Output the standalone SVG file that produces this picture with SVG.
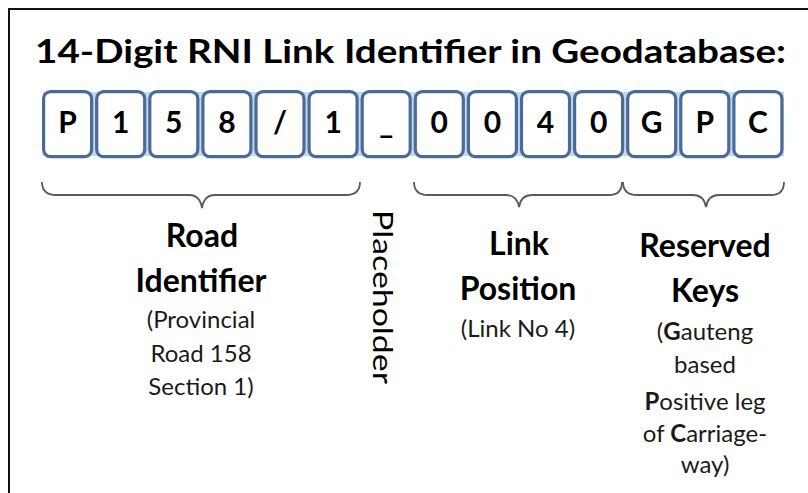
<svg xmlns="http://www.w3.org/2000/svg" width="808" height="493" viewBox="0 0 808 493">
<style>
text{font-family:Lato,"Open Sans","Liberation Sans",sans-serif;fill:#000}
.title{font-size:32px;font-weight:bold}
.ch{font-size:30px;font-weight:bold;text-anchor:middle}
.h{font-size:32px;font-weight:bold;text-anchor:middle}
.s{font-size:24px;text-anchor:middle;fill:#1a1a1a}
.b{font-weight:bold}
.box{fill:#fff;stroke:#4a6b97;stroke-width:3.2}
.brace{fill:none;stroke:#5a5a5a;stroke-width:1.8}
</style>
<rect width="808" height="493" fill="#fff"/>
<path d="M9,493 V9 H808" fill="none" stroke="#111" stroke-width="2"/>
<text class="title" x="35" y="63" textLength="751" lengthAdjust="spacingAndGlyphs">14-Digit RNI Link Identifier in Geodatabase:</text>
<rect x="43" y="92" width="741" height="64" fill="#c6d8ee"/>
<g id="c1"><rect class="box" x="43.6" y="91.6" width="48" height="65" rx="7"/><text class="ch" x="67.6" y="133">P</text></g>
<g id="c2"><rect class="box" x="96.7" y="91.6" width="48" height="65" rx="7"/><text class="ch" x="120.7" y="133">1</text></g>
<g id="c3"><rect class="box" x="149.8" y="91.6" width="48" height="65" rx="7"/><text class="ch" x="173.8" y="133">5</text></g>
<g id="c4"><rect class="box" x="202.9" y="91.6" width="48" height="65" rx="7"/><text class="ch" x="226.9" y="133">8</text></g>
<g id="c5"><rect class="box" x="256" y="91.6" width="48" height="65" rx="7"/><text class="ch" x="280" y="133">/</text></g>
<g id="c6"><rect class="box" x="309.1" y="91.6" width="48" height="65" rx="7"/><text class="ch" x="333.1" y="133">1</text></g>
<g id="c7"><rect class="box" x="362.2" y="91.6" width="48" height="65" rx="7"/><text class="ch" x="386.2" y="133">_</text></g>
<g id="c8"><rect class="box" x="415.3" y="91.6" width="48" height="65" rx="7"/><text class="ch" x="439.3" y="133">0</text></g>
<g id="c9"><rect class="box" x="468.4" y="91.6" width="48" height="65" rx="7"/><text class="ch" x="492.4" y="133">0</text></g>
<g id="c10"><rect class="box" x="521.5" y="91.6" width="48" height="65" rx="7"/><text class="ch" x="545.5" y="133">4</text></g>
<g id="c11"><rect class="box" x="574.6" y="91.6" width="48" height="65" rx="7"/><text class="ch" x="598.6" y="133">0</text></g>
<g id="c12"><rect class="box" x="627.7" y="91.6" width="48" height="65" rx="7"/><text class="ch" x="651.7" y="133">G</text></g>
<g id="c13"><rect class="box" x="680.8" y="91.6" width="48" height="65" rx="7"/><text class="ch" x="704.8" y="133">P</text></g>
<g id="c14"><rect class="box" x="733.9" y="91.6" width="48" height="65" rx="7"/><text class="ch" x="757.9" y="133">C</text></g>
<g id="connectors">
<path class="brace" d="M42,182 Q42,195 56,195 H189 Q200,195 202,208 Q204,195 215,195 H346 Q360,195 360,182"/>
<path class="brace" d="M414,182 Q414,195 428,195 H506 Q517,195 519,207 Q521,195 532,195 H609 Q622,195 622,182"/>
<path class="brace" d="M623,182 Q623,195 637,195 H693 Q704,195 706,207 Q708,195 719,195 H771 Q784,195 784,182"/>
</g>
<g id="road">
<text class="h" x="202" y="247">Road</text>
<text class="h" x="201" y="292">Identifier</text>
<text class="s" x="201" y="328">(Provincial</text>
<text class="s" x="201" y="362">Road 158</text>
<text class="s" x="201" y="395">Section 1)</text>
</g>
<g id="placeholder">
<text transform="translate(373,210) rotate(90)" x="0" y="0" font-size="27" textLength="174" lengthAdjust="spacingAndGlyphs">Placeholder</text>
</g>
<g id="link">
<text class="h" x="519" y="255">Link</text>
<text class="h" x="518" y="300">Position</text>
<text class="s" x="518" y="337">(Link No 4)</text>
</g>
<g id="reserved">
<text class="h" x="705" y="257">Reserved</text>
<text class="h" x="705" y="302">Keys</text>
<text class="s" x="705" y="340">(<tspan class="b">G</tspan>auteng</text>
<text class="s" x="705" y="373">based</text>
<text class="s" x="705" y="410"><tspan class="b">P</tspan>ositive leg</text>
<text class="s" x="705" y="442">of <tspan class="b">C</tspan>arriage-</text>
<text class="s" x="705" y="473">way)</text>
</g>
</svg>
